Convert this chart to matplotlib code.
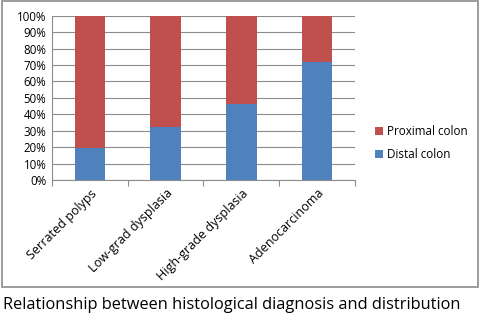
import matplotlib.pyplot as plt
import numpy as np
from matplotlib.patches import Rectangle

plt.rcParams['font.family'] = ['Open Sans', 'DejaVu Sans']

categories = ["Serrated polyps", "Low-grad dysplasia", "High-grade dysplasia", "Adenocarcinoma"]
distal = [19.5, 32.0, 46.5, 72.0]
proximal = [100 - d for d in distal]

RED = "#C0504D"
BLUE = "#4F81BD"
W, H = 480, 326

fig = plt.figure(figsize=(W / 100, H / 100), dpi=100)
ax = fig.add_axes([52 / W, 1 - 180 / H, (355 - 52) / W, (180 - 15.7) / H])

x = np.arange(len(categories))
ax.bar(x, distal, width=0.4, color=BLUE, label="Distal colon", zorder=3)
ax.bar(x, proximal, width=0.4, bottom=distal, color=RED, label="Proximal colon", zorder=3)

ax.set_xlim(-0.5, len(categories) - 0.5)
ax.set_ylim(0, 100)
ax.set_yticks(np.arange(0, 101, 10))
ax.set_yticklabels([f"{v}%" for v in range(0, 101, 10)], fontsize=8.3)
ax.yaxis.grid(True, color="#8c8c8c", lw=0.8, zorder=0)
ax.tick_params(axis="y", length=0, pad=4)

ax.set_xticks(np.arange(-0.5, len(categories), 1))
ax.set_xticklabels([])
ax.set_xticks(x, minor=True)
ax.set_xticklabels(categories, minor=True, rotation=45, ha="right",
                   rotation_mode="anchor", fontsize=9)
ax.tick_params(axis="x", which="major", length=4, color="#8c8c8c", direction="out")
ax.tick_params(axis="x", which="minor", length=0, pad=5)

for s in ["top", "right"]:
    ax.spines[s].set_visible(False)
for s in ["left", "bottom"]:
    ax.spines[s].set_color("#8c8c8c")

handles, labels = ax.get_legend_handles_labels()
leg = ax.legend(handles[::-1], labels[::-1], loc="center left",
                bbox_to_anchor=(364 / W, 1 - 143 / H), bbox_transform=fig.transFigure,
                frameon=False, fontsize=8.4, handlelength=0.7, handleheight=0.7,
                handletextpad=0.4, labelspacing=0.9)

fig.patches.append(Rectangle((2 / W, 1 - 287 / H), 476 / W, 286 / H,
                             transform=fig.transFigure, fill=False,
                             edgecolor="#8c8c8c", lw=1.2))

fig.text(232 / W, 1 - 305 / H,
         "Relationship between histological diagnosis and distribution",
         ha="center", va="center", fontsize=11.8)

fig.savefig("out.png", dpi=100, facecolor="white")
